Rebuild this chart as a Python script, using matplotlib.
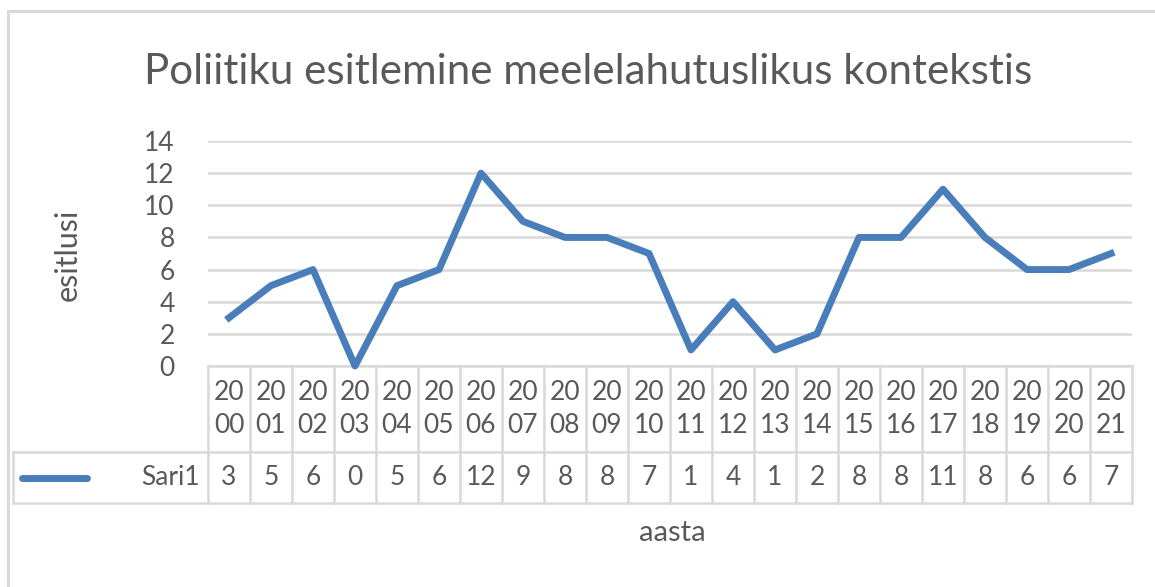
import matplotlib
matplotlib.use('Agg')
import matplotlib.pyplot as plt
import matplotlib.transforms as mtrans
from matplotlib.lines import Line2D

plt.rcParams['font.family'] = ['Lato', 'DejaVu Sans']

years = [str(y) for y in range(2000, 2022)]
values = [3, 5, 6, 0, 5, 6, 12, 9, 8, 8, 7, 1, 4, 1, 2, 8, 8, 11, 8, 6, 6, 7]
series_name = 'Sari1'
title = 'Poliitiku esitlemine meelelahutuslikus kontekstis'
y_ticks = [0, 2, 4, 6, 8, 10, 12, 14]

W, H = 1155, 587
text_col = '#595959'
grid_col = '#d9d9d9'
line_col = '#4a7ebb'
fs = 19

fig = plt.figure(figsize=(W / 100, H / 100), dpi=100)

# outer chart border (only top and left visible)
fig.add_artist(Line2D([8 / W, 8 / W], [0, 1 - 11 / H], color=grid_col, lw=2.2))
fig.add_artist(Line2D([8 / W, 1], [1 - 11 / H, 1 - 11 / H], color=grid_col, lw=2.2))

left, right, top, bottom = 208, 1132, 141, 366
ax = fig.add_axes([left / W, 1 - bottom / H, (right - left) / W, (bottom - top) / H])
n = len(years)
x = list(range(n))
ax.set_xlim(-0.5, n - 0.5)
ax.set_ylim(0, 14)
ax.set_yticks(y_ticks)
ax.yaxis.grid(True, color=grid_col, lw=1.8)
ax.set_axisbelow(True)
for s in ax.spines.values():
    s.set_visible(False)
ax.tick_params(axis='y', length=0, labelsize=fs, labelcolor=text_col, pad=24)
ax.set_xticks([])

ax.plot(x, values, color=line_col, lw=5, solid_joinstyle='round', clip_on=False, zorder=3)

fig.text(588 / W, 1 - 72 / H, title, ha='center', va='center', fontsize=30.3, color=text_col)
ax.set_ylabel('esitlusi', fontsize=22, color=text_col, va='center')
ax.yaxis.set_label_coords((68 - left) / (right - left), (bottom - 255) / (bottom - top))

# data table under the plot
tr = mtrans.blended_transform_factory(ax.transData, ax.transAxes)
ah = bottom - top
y_top = 0.0
y_mid = -(452 - bottom) / ah
y_bot = -(503 - bottom) / ah
x_leg = -0.5 - (left - 13) / 42.0
tb = dict(color=grid_col, lw=1.8, transform=tr, clip_on=False)

ax.plot([-0.5, n - 0.5], [y_top, y_top], **tb)
ax.plot([x_leg, n - 0.5], [y_mid, y_mid], **tb)
ax.plot([x_leg, n - 0.5], [y_bot, y_bot], **tb)
ax.plot([x_leg, x_leg], [y_mid, y_bot], **tb)
for i in range(n + 1):
    ax.plot([i - 0.5, i - 0.5], [y_top, y_bot], **tb)

for i, (yr, v) in enumerate(zip(years, values)):
    ax.text(i, (y_top + y_mid) / 2, yr[:2] + '\n' + yr[2:], transform=tr, ha='center', va='center',
            fontsize=fs, color=text_col, linespacing=1.4)
    ax.text(i, (y_mid + y_bot) / 2, str(v), transform=tr, ha='center', va='center',
            fontsize=fs, color=text_col)

y_row = (y_mid + y_bot) / 2
ax.plot([x_leg + 0.22, x_leg + 1.75], [y_row, y_row], color=line_col, lw=5,
        solid_capstyle='round', transform=tr, clip_on=False)
ax.text(-0.5 - 8 / 42, y_row, series_name, transform=tr, ha='right', va='center',
        fontsize=fs, color=text_col)

fig.text(672 / W, 1 - 533 / H, 'aasta', ha='center', va='center', fontsize=21, color=text_col)

fig.savefig('out.png', dpi=100)
